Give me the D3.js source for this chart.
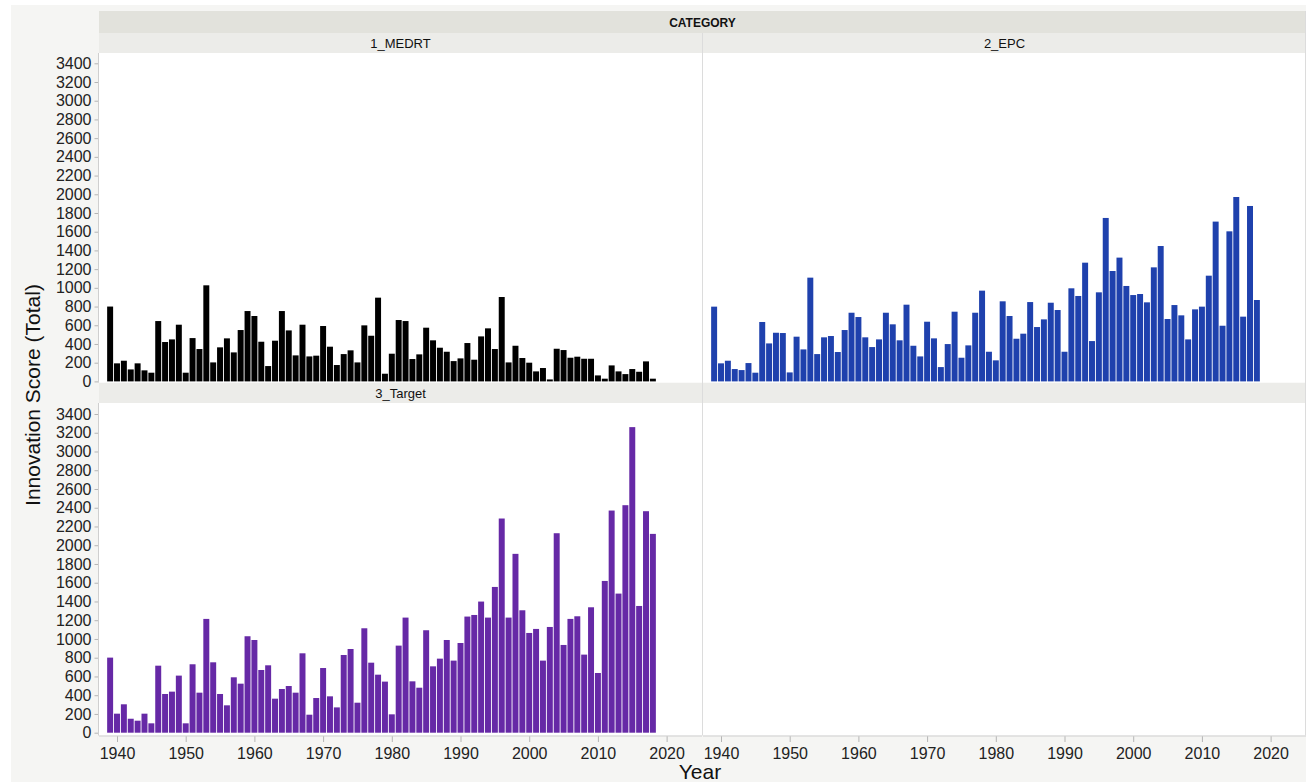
<!DOCTYPE html>
<html>
<head>
<meta charset="utf-8">
<script src="https://cdn.jsdelivr.net/npm/d3@7"></script>
<style>
  body { margin: 0; background: #fff; }
  svg { display: block; font-family: "Liberation Sans", Arial, Helvetica, sans-serif; }
</style>
</head>
<body>
<div id="chart"></div>
<script>
var width = 1306,
  height = 782;

// years on the x axis (one bar per year)
var years = d3.range(1939, 2019);

var medrt = [800, 193, 221, 128, 193, 118, 93, 645, 421, 449, 606, 93, 463, 346, 1027, 203, 364, 460, 310, 549,
  752, 699, 424, 164, 435, 752, 545, 278, 606, 267, 275, 592, 371, 175, 292, 332, 203, 599, 488, 895,
  82, 296, 656, 645, 239, 289, 574, 439, 360, 317, 217, 246, 410, 232, 481, 567, 346, 902, 203, 381,
  250, 200, 107, 143, 21, 349, 335, 253, 264, 242, 242, 64, 29, 171, 107, 78, 132, 103, 214, 29];

var epc = [799, 193, 221, 132, 121, 196, 93, 635, 406, 520, 517, 96, 478, 342, 1109, 292, 471, 485, 314, 549,
  734, 688, 471, 367, 449, 734, 610, 439, 820, 381, 267, 638, 460, 153, 399, 745, 253, 385, 734, 970,
  317, 225, 856, 699, 456, 510, 848, 581, 663, 841, 763, 317, 995, 913, 1269, 431, 952, 1747, 1180, 1323,
  1020, 923, 934, 845, 1219, 1447, 667, 816, 706, 449, 770, 799, 1130, 1708, 595, 1604, 1971, 692, 1875, 870];

var target = [801, 203, 303, 149, 128, 203, 100, 715, 413, 438, 609, 100, 730, 427, 1214, 751, 413, 292, 591, 523,
  1029, 989, 669, 719, 363, 466, 498, 427, 847, 192, 370, 690, 388, 270, 829, 893, 320, 1114, 747, 619,
  545, 196, 929, 1228, 548, 480, 1093, 708, 790, 989, 769, 957, 1239, 1256, 1399, 1228, 1555, 2285, 1228, 1908,
  1306, 1064, 1107, 769, 1128, 2128, 936, 1214, 1242, 833, 1338, 637, 1619, 2370, 1484, 2427, 3260, 1352, 2363, 2121];

var categories = ['1_MEDRT', '2_EPC', '3_Target'];
var colors = ['#000000', '#1f41ad', '#6629a6'];
var yTicks = d3.range(0, 3401, 200);
var xTicks = [1940, 1950, 1960, 1970, 1980, 1990, 2000, 2010, 2020];

// panel geometry
var colX = [99, 703],
  colW = 603,
  rows = [{head: 33, top: 53, bottom: 382.5, y0: 381.4, y3400: 63.3},
          {head: 383, top: 403, bottom: 735.5, y0: 732.7, y3400: 414}];

var svg = d3.select('#chart').append('svg')
  .attr('width', width)
  .attr('height', height);

// page frame
svg.append('rect').attr('x', 11).attr('y', 5).attr('width', width - 11).attr('height', height - 5)
  .attr('fill', '#f5f5f3');

// CATEGORY header
svg.append('rect').attr('x', colX[0]).attr('y', 11).attr('width', width - colX[0]).attr('height', 22)
  .attr('fill', '#e2e2dc');
svg.append('text').attr('x', (colX[0] + width) / 2).attr('y', 26.5)
  .attr('text-anchor', 'middle').attr('font-size', 12).attr('font-weight', 'bold').attr('fill', '#111')
  .text('CATEGORY');

var panels = [
  {col: 0, row: 0, cat: categories[0], values: medrt, color: colors[0]},
  {col: 1, row: 0, cat: categories[1], values: epc, color: colors[1]},
  {col: 0, row: 1, cat: categories[2], values: target, color: colors[2]},
  {col: 1, row: 1, cat: '', values: null, color: null}
];

panels.forEach(function(p) {
  var r = rows[p.row],
    x0 = colX[p.col];

  var x = d3.scaleLinear().domain([1937.38, 2025.15]).range([x0, x0 + colW]);
  var y = d3.scaleLinear().domain([0, 3400]).range([r.y0, r.y3400]);

  // sub header
  svg.append('rect').attr('x', x0).attr('y', r.head).attr('width', colW).attr('height', r.top - r.head)
    .attr('fill', '#ececE9');
  svg.append('text').attr('x', x0 + colW / 2).attr('y', r.head + 14.5)
    .attr('text-anchor', 'middle').attr('font-size', 13).attr('fill', '#111')
    .text(p.cat);

  // plot area
  svg.append('rect').attr('x', x0).attr('y', r.top).attr('width', colW).attr('height', r.bottom - r.top)
    .attr('fill', '#ffffff');

  if (p.values) {
    var bw = x(1940) - x(1939);
    svg.append('g').selectAll('rect')
      .data(years)
      .enter().append('rect')
      .attr('x', function(d) { return x(d) - bw / 2 + 0.45; })
      .attr('width', bw - 0.9)
      .attr('y', function(d, i) { return y(p.values[i]); })
      .attr('height', function(d, i) { return y(0) - y(p.values[i]); })
      .attr('fill', p.color);
  }

  // y axis on the left column only
  if (p.col === 0) {
    var ya = svg.append('g').attr('transform', 'translate(' + (x0 - 0.5) + ',0)');
    ya.call(d3.axisLeft(y).tickValues(d3.range(100, 3500, 200)).tickSize(2).tickFormat(''));
    ya.call(d3.axisLeft(y).tickValues(yTicks).tickSize(4).tickPadding(3).tickFormat(d3.format('d')));
    ya.select('.domain').remove();
    ya.selectAll('line').attr('stroke', '#b5b5b5');
    ya.selectAll('text').attr('font-size', 16).attr('fill', '#222')
      .attr('font-family', '"Liberation Sans", Arial, sans-serif');
    svg.append('line').attr('x1', x0 - 0.5).attr('x2', x0 - 0.5).attr('y1', r.top).attr('y2', r.bottom)
      .attr('stroke', '#cfcfcf');
  }

  // x axis on bottom row
  if (p.row === 1) {
    var xa = svg.append('g').attr('transform', 'translate(0,' + (r.bottom + 0.5) + ')');
    xa.call(d3.axisBottom(x).tickValues(d3.range(1937.5, 2025, 2.5)).tickSize(3).tickFormat(''));
    xa.call(d3.axisBottom(x).tickValues(xTicks).tickSize(6).tickPadding(6).tickFormat(d3.format('d')));
    xa.select('.domain').remove();
    xa.selectAll('line').attr('stroke', '#b5b5b5');
    xa.selectAll('text').attr('font-size', 16).attr('fill', '#222')
      .attr('font-family', '"Liberation Sans", Arial, sans-serif');
    svg.append('line').attr('x1', x0).attr('x2', x0 + colW).attr('y1', r.bottom + 0.5).attr('y2', r.bottom + 0.5)
      .attr('stroke', '#cfcfcf');
  }
});

// divider between the columns and right edge
svg.append('line').attr('x1', 702.5).attr('x2', 702.5).attr('y1', 33).attr('y2', rows[1].bottom)
  .attr('stroke', '#dcdcdc');
svg.append('line').attr('x1', width - 0.5).attr('x2', width - 0.5).attr('y1', 11).attr('y2', rows[1].bottom)
  .attr('stroke', '#dcdcdc');

// axis titles
svg.append('text')
  .attr('transform', 'translate(40,395) rotate(-90)')
  .attr('text-anchor', 'middle').attr('font-size', 21).attr('fill', '#111')
  .text('Innovation Score (Total)');
svg.append('text').attr('x', 700).attr('y', 779)
  .attr('text-anchor', 'middle').attr('font-size', 21).attr('fill', '#111')
  .text('Year');
</script>
</body>
</html>
